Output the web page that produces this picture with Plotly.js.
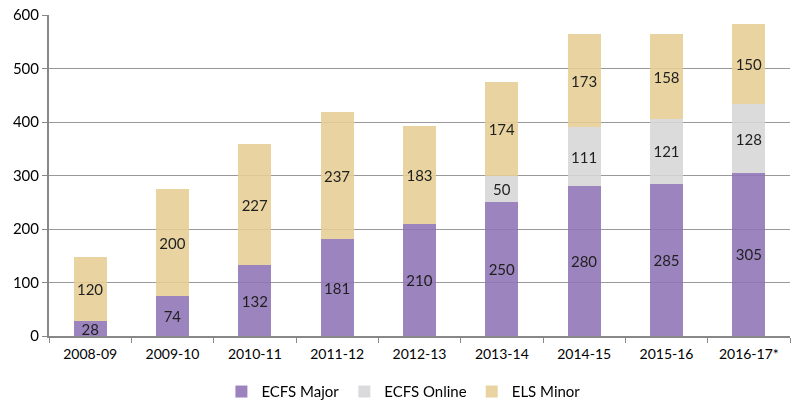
<!DOCTYPE html>
<html><head><meta charset="utf-8">
<script src="https://cdn.plot.ly/plotly-3.0.1.min.js"></script>
<style>html,body{margin:0;padding:0;background:#fff}#c{width:791px;height:406px}</style>
</head><body><div id="c"></div>
<script>
const categories = ['2008-09','2009-10','2010-11','2011-12','2012-13','2013-14','2014-15','2015-16','2016-17*'];
const ecfsMajor = [28,74,132,181,210,250,280,285,305];
const ecfsOnline = [0,0,0,0,0,50,111,121,128];
const elsMinor = [120,200,227,237,183,174,173,158,150];
const yTicks = [0,100,200,300,400,500,600];

function mk(name, vals, color){
  return {type:'bar', name:name, x:categories, y:vals,
    text: vals.map(v => v ? String(v) : ''), textposition:'inside', insidetextanchor:'middle',
    textangle:0, constraintext:'none', cliponaxis:false,
    textfont:{family:'Lato, sans-serif', size:15, color:'#000'},
    marker:{color:color, line:{width:0}}, opacity:0.88, width:0.4, hoverinfo:'skip'};
}
const data = [
  mk('ECFS Major', ecfsMajor, '#8f73b5'),
  mk('ECFS Online', ecfsOnline, '#d6d6d8'),
  mk('ELS Minor', elsMinor, '#e6cf95')
];
const layout = {
  width:791, height:406, barmode:'stack',
  margin:{l:49, r:1, t:15, b:70, autoexpand:false},
  paper_bgcolor:'#fff', plot_bgcolor:'#fff',
  font:{family:'Lato, sans-serif', size:14, color:'#000'},
  xaxis:{type:'category', tickson:'boundaries', ticks:'outside', ticklen:5, tickcolor:'#888',
    showline:true, linecolor:'#888', linewidth:2, showgrid:false, automargin:false,
    ticklabelstandoff:4, tickfont:{family:'Lato, sans-serif', size:14}},
  yaxis:{range:[0,600], tickvals:yTicks, ticks:'outside', ticklen:5, tickcolor:'#888',
    showline:true, linecolor:'#888', linewidth:2, gridcolor:'#999', gridwidth:1, automargin:false,
    zeroline:false, tickfont:{family:'Lato, sans-serif', size:15}},
  legend:{orientation:'h', x:0.51, xref:'container', xanchor:'center', yref:'container', y:0.035, yanchor:'middle',
    font:{family:'Lato, sans-serif', size:15}, traceorder:'normal', itemwidth:30, tracegroupgap:0},
  showlegend:true
};
Plotly.newPlot('c', data, layout, {displayModeBar:false, staticPlot:true});
</script></body></html>
